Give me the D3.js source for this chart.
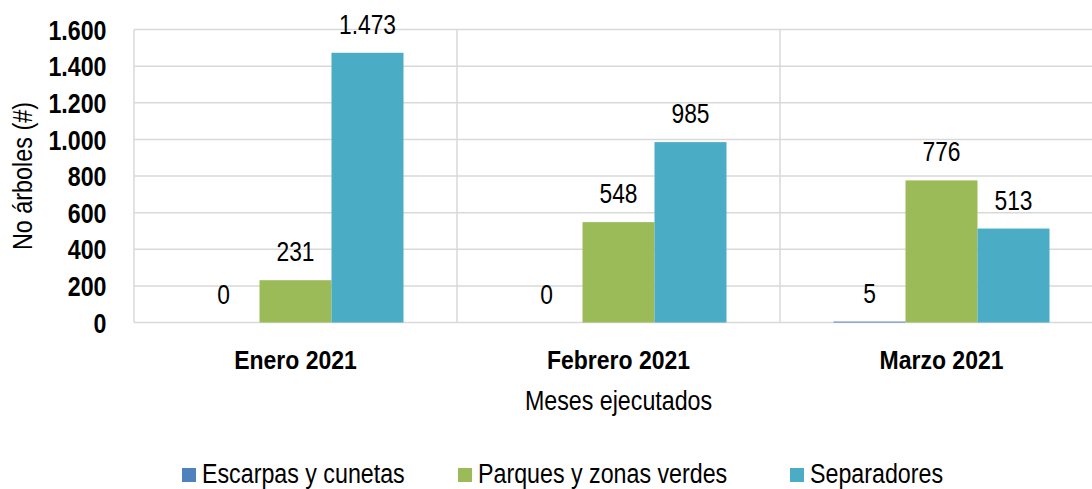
<!DOCTYPE html>
<html><head><meta charset="utf-8">
<script src="https://cdn.jsdelivr.net/npm/d3@7"></script>
<style>
body{margin:0;background:#fff;}
text{font-family:"Liberation Sans","Arial",sans-serif;fill:#000;}
</style></head><body>
<svg id="c" width="1092" height="489"></svg>
<script>
const categories = ["Enero 2021","Febrero 2021","Marzo 2021"];
const seriesNames = ["Escarpas y cunetas","Parques y zonas verdes","Separadores"];
const escarpas = [0,0,5];
const parques = [231,548,776];
const separadores = [1473,985,513];
const yTicks = [0,200,400,600,800,1000,1200,1400,1600];
const colors = ["#4F81BD","#9BBB59","#4BACC6"];
const series = [escarpas, parques, separadores];

(function(){
const svg = d3.select("#c");
const pL = 134, pR = 1103, pT = 29.5, pB = 322.5;
const x = d3.scaleBand().domain(categories).range([pL,pR]).paddingInner(0).paddingOuter(0);
const xs = d3.scaleBand().domain(seriesNames).range([0, x.bandwidth()]).paddingInner(0).paddingOuter(0.743);
const y = d3.scaleLinear().domain([0,1600]).range([pB, pT]);
const fmt = v => d3.format(",")(v).replace(/,/g,".");

function label(parent, tx, ty, str, size, sx, anchor, weight){
  return parent.append("text")
    .attr("transform",`translate(${tx},${ty}) scale(${sx},1)`)
    .attr("text-anchor",anchor).attr("font-size",size)
    .attr("font-weight",weight||"normal").text(str);
}

// gridlines
const g = svg.append("g");
g.selectAll("line.h").data(yTicks).join("line").attr("class","h")
  .attr("x1",pL).attr("x2",pR).attr("y1",d=>y(d)).attr("y2",d=>y(d))
  .attr("stroke","#d9d9d9").attr("stroke-width",1.5);
const vlines = [pL].concat(categories.map(c=>x(c)+x.bandwidth()));
g.selectAll("line.v").data(vlines).join("line").attr("class","v")
  .attr("x1",d=>d).attr("x2",d=>d).attr("y1",pT).attr("y2",pB)
  .attr("stroke","#d9d9d9").attr("stroke-width",1.5);

// y axis labels
const yAxis = d3.axisLeft(y).tickValues(yTicks).tickFormat(fmt).tickSize(0).tickPadding(0);
const ya = svg.append("g").attr("transform",`translate(106.5,0)`).call(yAxis);
ya.select(".domain").remove();
ya.selectAll("text").attr("font-size",27).attr("font-weight","bold")
  .attr("font-family",'"Liberation Sans",Arial,sans-serif').attr("fill","#000")
  .attr("x",0).attr("dy","0.36em").attr("transform","scale(0.86,1)");

// x axis labels
const xAxis = d3.axisBottom(x).tickSize(0).tickPadding(0);
const xa = svg.append("g").attr("transform",`translate(0,${pB})`).call(xAxis);
xa.select(".domain").remove();
xa.selectAll("text").attr("font-size",25).attr("font-weight","bold")
  .attr("font-family",'"Liberation Sans",Arial,sans-serif').attr("fill","#000")
  .attr("dy","0").attr("y",46.5).attr("transform","scale(0.92,1)");

// bars
series.forEach((vals,si)=>{
  const gs = svg.append("g");
  gs.selectAll("rect").data(categories).join("rect")
    .attr("x",c=>x(c)+xs(seriesNames[si]))
    .attr("width",xs.bandwidth())
    .attr("y",(c,i)=>y(vals[i]))
    .attr("height",(c,i)=>pB-y(vals[i]))
    .attr("fill",colors[si]);
  categories.forEach((c,i)=>{
    label(gs, x(c)+xs(seriesNames[si])+xs.bandwidth()/2, y(vals[i])-19, fmt(vals[i]), 28.5, 0.8, "middle");
  });
});

// axis titles
label(svg, x(categories[1])+x.bandwidth()/2, 410, "Meses ejecutados", 28, 0.83, "middle");
svg.append("text").attr("transform","translate(32,176) rotate(-90) scale(0.835,1)")
  .attr("text-anchor","middle").attr("font-size",28).text("No árboles (#)");

// legend
const legX = [182,458,790];
seriesNames.forEach((n,i)=>{
  svg.append("rect").attr("x",legX[i]).attr("y",468).attr("width",14).attr("height",14).attr("fill",colors[i]);
  label(svg, legX[i]+20, 483, n, 28, 0.83, "start");
});
})();
</script>
</body></html>
